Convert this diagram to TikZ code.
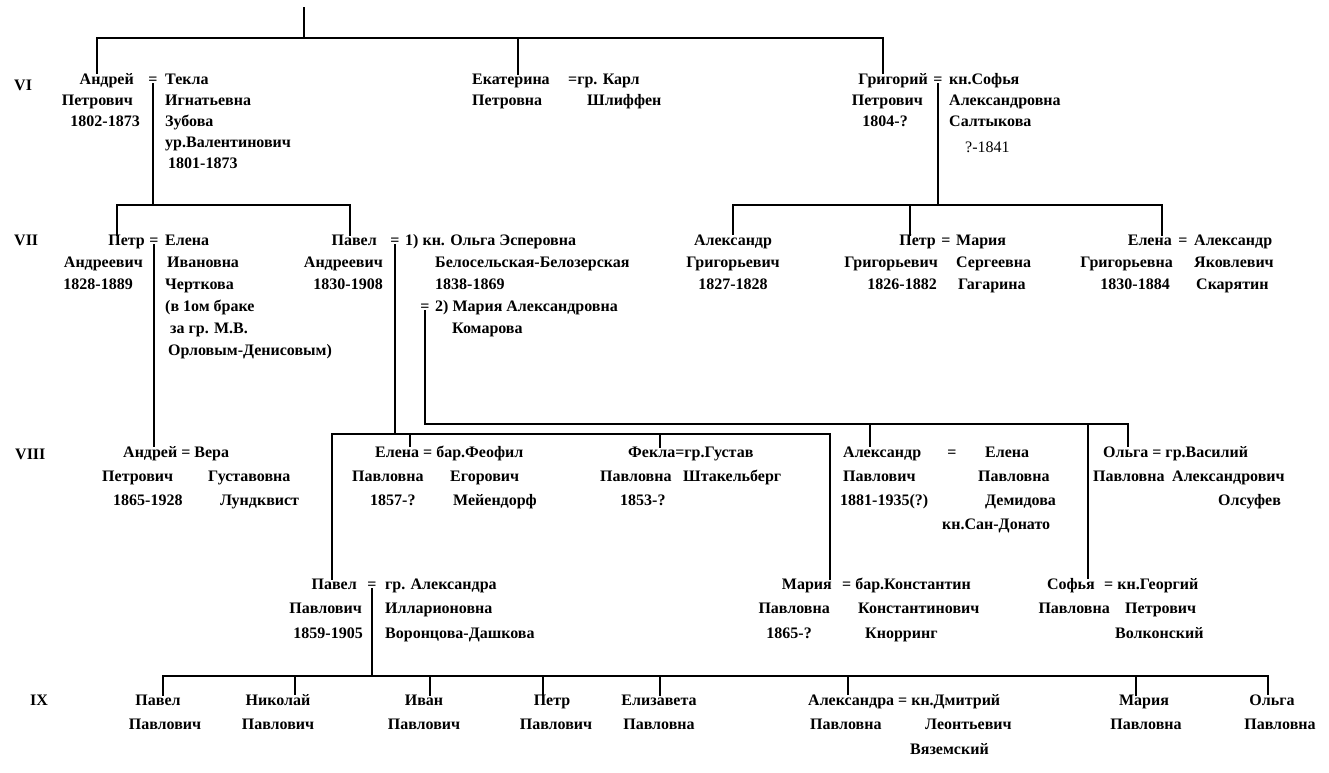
\documentclass[tikz,border=0pt]{standalone}
\usepackage{fontspec}
\setmainfont{Liberation Serif}
\begin{document}
\begin{tikzpicture}[x=1pt,y=-1pt,
  t/.style={font=\fontsize{16}{19}\selectfont\bfseries, inner sep=0pt, anchor=base west},
  te/.style={t, anchor=base east},
  tc/.style={t, anchor=base},
  tr/.style={t, font=\fontsize{16}{19}\selectfont},
  ln/.style={line width=2.4pt, line cap=rect}]
\useasboundingbox[fill=white] (0,0) rectangle (1329,772);

% ---------- generation VI ----------
\node[t] (gVI) at (14,90) {VI};
\node[te] (andrej) at (134,84) {Андрей};
\node[tc] (eq1) at (153,84) {=};
\node[t] (tekla) at (165,84) {Текла};
\node[te] (andrej2) at (133,105) {Петрович};
\node[t] (tekla2) at (165,105) {Игнатьевна};
\node[te] (andrej3) at (140,126) {1802-1873};
\node[t] (tekla3) at (165,126) {Зубова};
\node[t] (tekla4) at (165,147) {ур.Валентинович};
\node[t] (tekla5) at (168,168) {1801-1873};

\node[t] (ekat) at (472,84) {Екатерина};
\node[t] (karl) at (568,84) {=гр. Карл};
\node[t] (ekat2) at (472,105) {Петровна};
\node[t] (karl2) at (587,105) {Шлиффен};

\node[te] (grig) at (928,84) {Григорий};
\node[tc] (eq2) at (938,84) {=};
\node[t] (sofja) at (949,84) {кн.Софья};
\node[te] (grig2) at (923,105) {Петрович};
\node[t] (sofja2) at (949,105) {Александровна};
\node[te] (grig3) at (908,126) {1804-?};
\node[t] (sofja3) at (949,126) {Салтыкова};
\node[tr] (sofja4) at (965,152) {?-1841};

\coordinate (top) at (304,8);
\coordinate (topj) at (304,38);
\coordinate (hL) at (97,38);
\coordinate (hM) at (518,38);
\coordinate (hR) at (883,38);
\draw[ln] (top) -- (topj);
\draw[ln] (hL) -- (hR);
\draw[ln] (hL) -- (hL |- andrej.north);
\draw[ln] (hM) -- (hM |- ekat.north);
\draw[ln] (hR) -- (hR |- grig.north);

% ---------- generation VII ----------
\coordinate (b7a) at (117,205);
\coordinate (b7b) at (350,205);
\coordinate (b7c) at (733,205);
\coordinate (b7d) at (910,205);
\coordinate (b7e) at (1162,205);

\node[t] (gVII) at (14,245) {VII};
\node[te] (petr) at (145,245) {Петр};
\node[tc] (eq3) at (154,245) {=};
\node[t] (elena) at (165,245) {Елена};
\node[te] (petr2) at (143,267) {Андреевич};
\node[t] (elena2) at (167,267) {Ивановна};
\node[te] (petr3) at (133,289) {1828-1889};
\node[t] (elena3) at (165,289) {Черткова};
\node[t] (elena4) at (165,311) {(в 1ом браке};
\node[t] (elena5) at (170,333) {за гр. М.В.};
\node[t] (elena6) at (168,355) {Орловым-Денисовым)};

\node[te] (pavel) at (377,245) {Павел};
\node[tc] (eq4) at (395,245) {=};
\node[t] (olga) at (405,245) {1) кн. Ольга Эсперовна};
\node[te] (pavel2) at (383,267) {Андреевич};
\node[t] (olga2) at (435,267) {Белосельская-Белозерская};
\node[te] (pavel3) at (383,289) {1830-1908};
\node[t] (olga3) at (435,289) {1838-1869};
\node[tc] (eq5) at (425,311) {=};
\node[t] (marija) at (435,311) {2) Мария Александровна};
\node[t] (marija2) at (452,333) {Комарова};

\node[tc] (alexG) at (733,245) {Александр};
\node[tc] (alexG2) at (733,267) {Григорьевич};
\node[tc] (alexG3) at (733,289) {1827-1828};

\node[te] (petrG) at (936,245) {Петр};
\node[tc] (eq6) at (946,245) {=};
\node[t] (marijaS) at (956,245) {Мария};
\node[te] (petrG2) at (938,267) {Григорьевич};
\node[t] (marijaS2) at (956,267) {Сергеевна};
\node[te] (petrG3) at (937,289) {1826-1882};
\node[t] (marijaS3) at (958,289) {Гагарина};

\node[te] (elenaG) at (1172,245) {Елена};
\node[tc] (eq7) at (1183,245) {=};
\node[t] (alexS) at (1194,245) {Александр};
\node[te] (elenaG2) at (1173,267) {Григорьевна};
\node[t] (alexS2) at (1194,267) {Яковлевич};
\node[te] (elenaG3) at (1170,289) {1830-1884};
\node[t] (alexS3) at (1196,289) {Скарятин};

\draw[ln] (eq1.south) -- (eq1.south |- b7a);
\draw[ln] (b7a) -- (b7b);
\draw[ln] (b7a) -- (b7a |- petr.north);
\draw[ln] (b7b) -- (b7b |- pavel.north);
\draw[ln] (eq2.south) -- (eq2.south |- b7c);
\draw[ln] (b7c) -- (b7e);
\draw[ln] (b7c) -- (b7c |- alexG.north);
\draw[ln] (b7d) -- (b7d |- petrG.north);
\draw[ln] (b7e) -- (b7e |- elenaG.north);

% ---------- generation VIII ----------
\coordinate (m1a) at (332,434);
\coordinate (m1b) at (410,434);
\coordinate (m1c) at (660,434);
\coordinate (m1d) at (830,434);
\coordinate (m2a) at (425,424);
\coordinate (m2b) at (870,424);
\coordinate (m2c) at (1088,424);
\coordinate (m2d) at (1128,424);

\node[t] (gVIII) at (15,459) {VIII};
\node[t] (andrejV) at (123,457) {Андрей = Вера};
\node[t] (andrejV2) at (102,481) {Петрович};
\node[t] (veraV2) at (208,481) {Густавовна};
\node[t] (andrejV3) at (113,505) {1865-1928};
\node[t] (veraV3) at (220,505) {Лундквист};

\node[t] (elenaP) at (375,457) {Елена = бар.Феофил};
\node[t] (elenaP2) at (352,481) {Павловна};
\node[t] (feofil2) at (450,481) {Егорович};
\node[t] (elenaP3) at (370,505) {1857-?};
\node[t] (feofil3) at (453,505) {Мейендорф};

\node[t] (fekla) at (628,457) {Фекла=гр.Густав};
\node[t] (fekla2) at (600,481) {Павловна};
\node[t] (gustav2) at (683,481) {Штакельберг};
\node[t] (fekla3) at (620,505) {1853-?};

\node[t] (alexP) at (843,457) {Александр};
\node[tc] (eq8) at (952,457) {=};
\node[t] (elenaD) at (985,457) {Елена};
\node[t] (alexP2) at (843,481) {Павлович};
\node[t] (elenaD2) at (978,481) {Павловна};
\node[t] (alexP3) at (840,505) {1881-1935(?)};
\node[t] (elenaD3) at (985,505) {Демидова};
\node[t] (elenaD4) at (942,529) {кн.Сан-Донато};

\node[t] (olgaP) at (1103,457) {Ольга = гр.Василий};
\node[t] (olgaP2) at (1093,481) {Павловна};
\node[t] (vasilij2) at (1172,481) {Александрович};
\node[t] (vasilij3) at (1218,505) {Олсуфев};

\node[te] (pavelP) at (357,589) {Павел};
\node[tc] (eq9) at (372,589) {=};
\node[t] (alexandra) at (385,589) {гр. Александра};
\node[te] (pavelP2) at (362,613) {Павлович};
\node[t] (alexandra2) at (385,613) {Илларионовна};
\node[te] (pavelP3) at (363,638) {1859-1905};
\node[t] (alexandra3) at (385,638) {Воронцова-Дашкова};

\node[te] (mariaP) at (832,589) {Мария};
\node[t] (konst) at (838,589) {~= бар.Константин};
\node[te] (mariaP2) at (830,613) {Павловна};
\node[t] (konst2) at (858,613) {Константинович};
\node[te] (mariaP3) at (812,638) {1865-?};
\node[t] (konst3) at (865,638) {Кнорринг};

\node[te] (sofjaP) at (1095,589) {Софья};
\node[t] (georg) at (1100,589) {~= кн.Георгий};
\node[te] (sofjaP2) at (1110,613) {Павловна};
\node[t] (georg2) at (1125,613) {Петрович};
\node[t] (georg3) at (1115,638) {Волконский};

\draw[ln] (eq3.south) -- (eq3.south |- andrejV.north);
\draw[ln] (eq4.south) -- (eq4.south |- m1a);
\draw[ln] (m1a) -- (m1d);
\draw[ln] (m1a) -- (m1a |- pavelP.north);
\draw[ln] (m1b) -- (m1b |- elenaP.north);
\draw[ln] (m1c) -- (m1c |- fekla.north);
\draw[ln] (m1d) -- (m1d |- mariaP.north);
\draw[ln] (eq5.south) -- (eq5.south |- m2a);
\draw[ln] (m2a) -- (m2d);
\draw[ln] (m2b) -- (m2b |- alexP.north);
\draw[ln] (m2c) -- (m2c |- sofjaP.north);
\draw[ln] (m2d) -- (m2d |- olgaP.north);

% ---------- generation IX ----------
\coordinate (b9a) at (163,676);
\coordinate (b9b) at (295,676);
\coordinate (b9c) at (430,676);
\coordinate (b9d) at (543,676);
\coordinate (b9e) at (660,676);
\coordinate (b9f) at (848,676);
\coordinate (b9g) at (1136,676);
\coordinate (b9h) at (1268,676);

\node[t] (gIX) at (30,705) {IX};
\node[tc] (c1) at (158,705) {Павел};
\node[tc] (c1b) at (165,729) {Павлович};
\node[tc] (c2) at (278,705) {Николай};
\node[tc] (c2b) at (278,729) {Павлович};
\node[tc] (c3) at (424,705) {Иван};
\node[tc] (c3b) at (424,729) {Павлович};
\node[tc] (c4) at (552,705) {Петр};
\node[tc] (c4b) at (556,729) {Павлович};
\node[tc] (c5) at (659,705) {Елизавета};
\node[tc] (c5b) at (659,729) {Павловна};
\node[t] (c6) at (808,705) {Александра = кн.Дмитрий};
\node[t] (c6b) at (810,729) {Павловна};
\node[t] (c6c) at (925,729) {Леонтьевич};
\node[t] (c6d) at (910,754) {Вяземский};
\node[tc] (c7) at (1144,705) {Мария};
\node[tc] (c7b) at (1146,729) {Павловна};
\node[tc] (c8) at (1272,705) {Ольга};
\node[tc] (c8b) at (1280,729) {Павловна};

\draw[ln] (eq9.south) -- (eq9.south |- b9a);
\draw[ln] (b9a) -- (b9h);
\draw[ln] (b9a) -- (b9a |- c1.north);
\draw[ln] (b9b) -- (b9b |- c2.north);
\draw[ln] (b9c) -- (b9c |- c3.north);
\draw[ln] (b9d) -- (b9d |- c4.north);
\draw[ln] (b9e) -- (b9e |- c5.north);
\draw[ln] (b9f) -- (b9f |- c6.north);
\draw[ln] (b9g) -- (b9g |- c7.north);
\draw[ln] (b9h) -- (b9h |- c8.north);
\end{tikzpicture}
\end{document}
